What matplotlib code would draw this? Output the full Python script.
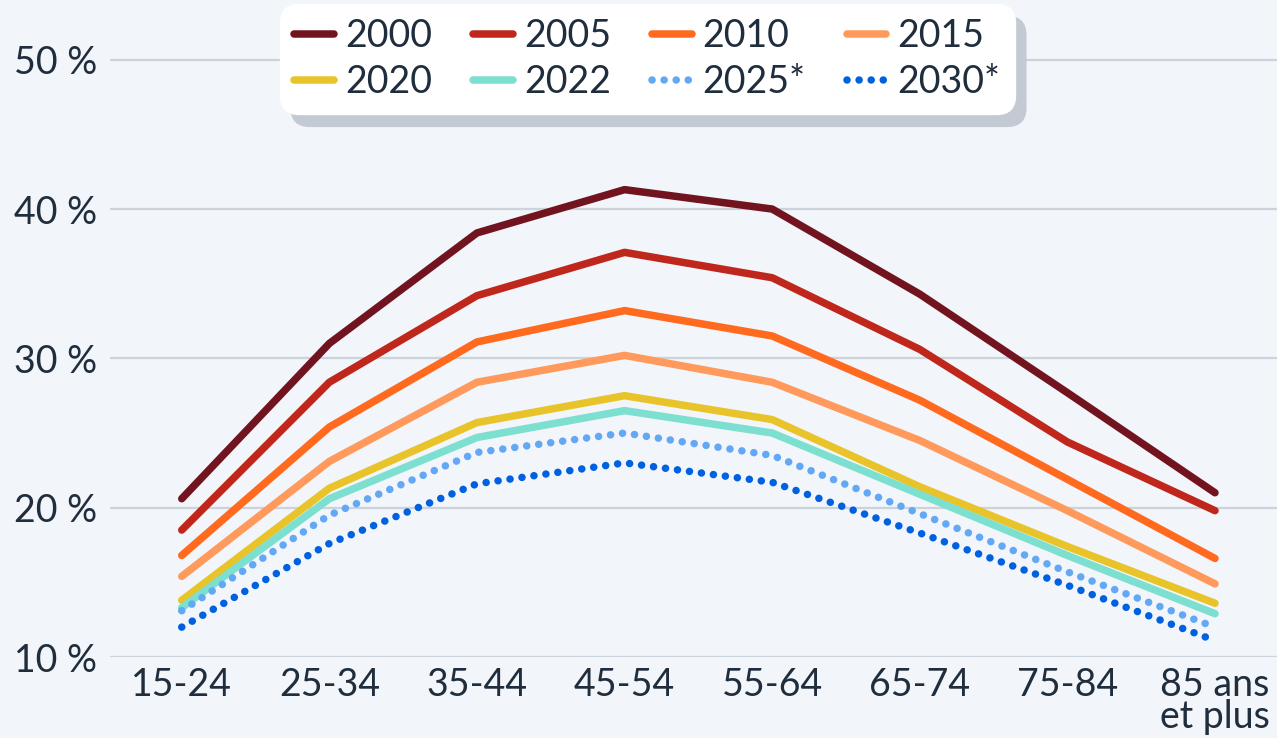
import matplotlib
matplotlib.use("Agg")
import matplotlib.pyplot as plt

categories = ["15-24", "25-34", "35-44", "45-54", "55-64", "65-74", "75-84", "85 ans\net plus"]
years = ["2000", "2005", "2010", "2015", "2020", "2022", "2025*", "2030*"]
v2000 = [20.6, 31.0, 38.4, 41.3, 40.0, 34.3, 27.7, 21.0]
v2005 = [18.5, 28.4, 34.2, 37.1, 35.4, 30.6, 24.4, 19.8]
v2010 = [16.8, 25.4, 31.1, 33.2, 31.5, 27.2, 21.9, 16.6]
v2015 = [15.4, 23.1, 28.4, 30.2, 28.4, 24.5, 19.8, 14.9]
v2020 = [13.8, 21.3, 25.7, 27.5, 25.9, 21.4, 17.4, 13.6]
v2022 = [13.3, 20.6, 24.7, 26.5, 25.0, 20.9, 16.8, 12.9]
v2025 = [13.1, 19.5, 23.7, 25.0, 23.5, 19.6, 15.7, 12.0]
v2030 = [12.0, 17.6, 21.6, 23.0, 21.7, 18.3, 14.8, 11.1]
series = [v2000, v2005, v2010, v2015, v2020, v2022, v2025, v2030]
colors = ["#721420", "#c0271c", "#ff6a1f", "#ff9a5c", "#e8c42a", "#7ddfd0", "#62a8f5", "#0061e0"]
dotted = [False] * 6 + [True] * 2
yticks = [10, 20, 30, 40, 50]
ytick_labels = ["10 %", "20 %", "30 %", "40 %", "50 %"]

plt.rcParams["font.family"] = ["Lato", "DejaVu Sans"]
text_color = "#1f2d3d"
bg = "#f2f5f9"
fs = 27

fig = plt.figure(figsize=(12.77, 7.38), dpi=100, facecolor=bg)
ax = fig.add_axes([110 / 1277, 1 - 657 / 738, 1 - 110 / 1277, 657 / 738])
ax.set_facecolor(bg)

x = list(range(len(categories)))
handles = []
for vals, c, d, lab in zip(series, colors, dotted, years):
    if d:
        h, = ax.plot(x, vals, color=c, lw=5.4, linestyle=(0, (0.01, 1.6)),
                     solid_capstyle="round", dash_capstyle="round", label=lab, zorder=3)
    else:
        h, = ax.plot(x, vals, color=c, lw=5.4, solid_capstyle="round",
                     solid_joinstyle="round", label=lab, zorder=3)
    handles.append(h)

ax.set_xlim(-0.486, 7.42)
ax.set_ylim(10, 54.0)
ax.set_yticks(yticks)
ax.set_yticklabels(ytick_labels)
ax.set_xticks(x)
ax.set_xticklabels(categories, linespacing=0.88)
ax.grid(axis="y", color="#cdd3db", lw=1.6, zorder=1)
ax.grid(axis="x", visible=False)
for s in ax.spines.values():
    s.set_visible(False)
ax.tick_params(axis="both", length=0, labelsize=fs, colors=text_color)
ax.tick_params(axis="y", pad=9)
ax.tick_params(axis="x", pad=7)

# row-wise order for a 4-column, 2-row legend
order = [0, 4, 1, 5, 2, 6, 3, 7]
leg = ax.legend([handles[i] for i in order], [years[i] for i in order],
                ncol=4, loc="upper left", bbox_to_anchor=(280 / 1277, 1 - 4 / 738),
                bbox_transform=fig.transFigure, borderaxespad=0, frameon=True,
                fancybox=True, fontsize=fs, handlelength=1.05, handletextpad=0.3,
                columnspacing=1.1, labelspacing=0.25, borderpad=0.38,
                shadow={"ox": 8, "oy": -9, "color": "#c3cad3", "alpha": 1},
                labelcolor=text_color)
frame = leg.get_frame()
frame.set_facecolor("white")
frame.set_edgecolor("white")
frame.set_alpha(1)
frame.set_boxstyle("round", pad=0, rounding_size=0.5)

fig.savefig("out.png", dpi=100, facecolor=bg)
